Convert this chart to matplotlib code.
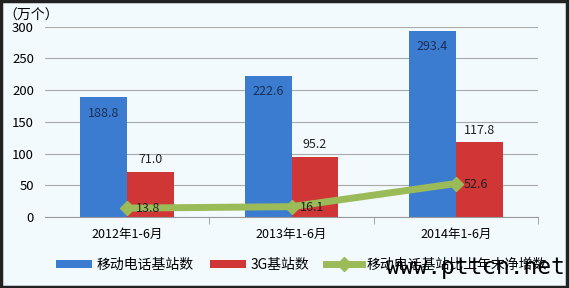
import numpy as np
import matplotlib.pyplot as plt
from matplotlib.patches import Rectangle

plt.rcParams['font.family'] = ['Noto Sans CJK SC', 'DejaVu Sans']

cats = ["2012年1-6月", "2013年1-6月", "2014年1-6月"]
mobile = [188.8, 222.6, 293.4]   # 移动电话基站数
g3 = [71.0, 95.2, 117.8]         # 3G基站数
net_add = [13.8, 16.1, 52.6]     # 移动电话基站比上年末净增数

bg = "#f3fafd"
fig = plt.figure(figsize=(5.70, 2.88), dpi=100, facecolor=bg)
ax = fig.add_axes([0.079, 0.247, 0.865, 0.66], facecolor=bg)

x = np.arange(len(cats))
w = 0.285
b1 = ax.bar(x - w/2, mobile, w, color="#3c7cd0", label="移动电话基站数", zorder=2)
b2 = ax.bar(x + w/2, g3, w, color="#d13636", label="3G基站数", zorder=2)
ln, = ax.plot(x, net_add, color="#9bbb59", lw=5, marker="D", ms=7, label="移动电话基站比上年末净增数", zorder=3)

for xi, v in zip(x, mobile):
    ax.text(xi - w/2, v - 25, f"{v:.1f}", ha="center", va="center", fontsize=9, color="#1a2f55", zorder=4)
for xi, v in zip(x, g3):
    ax.text(xi + w/2, v + 19, f"{v:.1f}", ha="center", va="center", fontsize=9, color="#222222", zorder=4)
for xi, v in zip(x, net_add):
    ax.text(xi + 0.05, v - 1, f"{v:.1f}", ha="left", va="center", fontsize=9, color="#222222", zorder=4)

ax.set_xlim(-0.5, 2.5)
ax.set_ylim(0, 300)
ax.set_yticks(range(0, 301, 50))
ax.set_xticks(x)
ax.set_xticklabels(cats, fontsize=9)
ax.set_xticks([0.5, 1.5, 2.5], minor=True)
ax.tick_params(axis="x", which="major", length=0, pad=8)
ax.tick_params(axis="x", which="minor", length=5, color="#999999")
ax.tick_params(axis="y", length=0, labelsize=9.5, pad=8)
ax.grid(axis="y", color="#aaaaaa", lw=0.8, zorder=0)
for s in ["top", "right", "left"]:
    ax.spines[s].set_visible(False)
ax.spines["bottom"].set_color("#999999")
ax.text(-0.085, 1.06, "（万个）", transform=ax.transAxes, fontsize=10, ha="left", va="center")

ax.legend([b1, b2, ln], ["移动电话基站数", "3G基站数", "移动电话基站比上年末净增数"],
          loc="upper center", bbox_to_anchor=(0.52, -0.15), ncol=3, frameon=False,
          fontsize=10, handlelength=2.6, handleheight=0.5, handletextpad=0.3, columnspacing=1.2)

fig.text(0.99, 0.03, "www.pttcn.net", fontsize=16.5, family="DejaVu Sans Mono", ha="right", va="bottom", color="black")
fig.patches.append(Rectangle((0.002, 0.005), 0.993, 0.99, transform=fig.transFigure,
                             fill=False, edgecolor="#222222", lw=2.5))

fig.savefig("out.png", dpi=100, facecolor=bg)
